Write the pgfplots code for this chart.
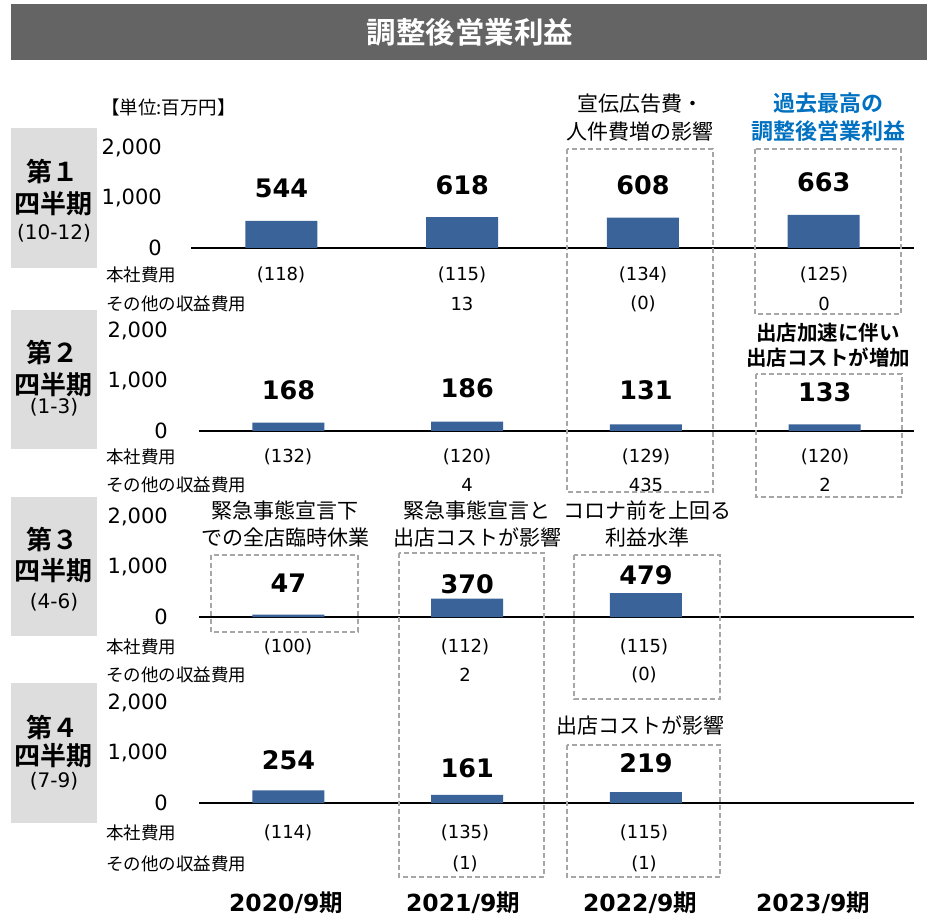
\documentclass[border=0pt]{standalone}
\usepackage{fontspec}
\setmainfont{DejaVu Sans}
\newfontfamily\jp{Noto Sans CJK JP}[BoldFont={Noto Sans CJK JP Bold}]
\usepackage{pgfplots}
\pgfplotsset{compat=1.18}
\definecolor{barblue}{HTML}{3A6399}
\definecolor{titlegray}{HTML}{646464}
\definecolor{boxgray}{HTML}{DDDDDD}
\definecolor{dashgray}{HTML}{A6A6A6}
\definecolor{annblue}{HTML}{0070C0}
\pgfplotsset{
  panel/.style={
    scale only axis, height=100pt,
    xmin=-0.5, xmax=3.5, ymin=0, ymax=2000,
    axis lines*=left, axis line style={-},
    x axis line style={black, line width=1.5pt},
    y axis line style={draw=none},
    xtick=\empty, ytick={0,1000,2000}, major tick length=0pt,
    /pgf/number format/assume math mode=true,
    /pgf/number format/1000 sep={,},
    yticklabel style={font=\fontsize{21}{24}\selectfont, anchor=east, inner sep=0pt},
    clip=false,
  },
  bars/.style={ybar, bar shift=0pt, bar width=72pt, fill=barblue, draw=none},
  lbls/.style={draw=none, mark=none, point meta=explicit symbolic,
    nodes near coords={\pgfplotspointmeta},
    every node near coord/.append style={font=\bfseries\fontsize{25.5}{30}\selectfont, inner sep=0pt, anchor=south}},
}
\newcommand{\rowfont}{\jp\fontsize{17.5}{20}\selectfont}
\newcommand{\valfont}{\fontsize{18}{22}\selectfont}
\newcommand{\annfont}{\jp\fontsize{21}{24}\selectfont}
\begin{document}
\begin{tikzpicture}[x=1pt,y=1pt]
\useasboundingbox (0,0) rectangle (927,-917);
% title
\fill[titlegray] (11,-4) rectangle (927,-60);
\node[text=white, font=\jp\bfseries\fontsize{29.5}{32}\selectfont] at (470,-32) {調整後営業利益};
\node[anchor=west, font=\jp\fontsize{18.5}{20}\selectfont, inner sep=0pt] at (101,-107) {【単位:百万円】};
% quarter boxes
\fill[boxgray] (11,-128) rectangle (97,-268);
\fill[boxgray] (11,-310) rectangle (97,-449);
\fill[boxgray] (11,-497) rectangle (97,-636);
\fill[boxgray] (11,-683) rectangle (97,-823);
\foreach \a/\b/\c/\n/\r in {172/204/233/１/10-12, 353/385/407/２/1-3, 540/571/602/３/4-6, 728/756/781/４/7-9}{
  \node[font=\jp\bfseries\fontsize{26}{28}\selectfont] at (53,-\a) {第\n};
  \node[font=\jp\bfseries\fontsize{26}{28}\selectfont] at (54,-\b) {四半期};
  \node[font=\fontsize{20}{22}\selectfont] at (54,-\c) {(\r)};
}
% Panel 1
\begin{axis}[panel, at={(191pt,-248pt)}, anchor=south west, width=723pt,
  yticklabel style={xshift=-29pt}]
\addplot[bars] coordinates {(0,544) (1,618) (2,608) (3,663)};
\addplot[lbls] coordinates {(0,994)[544] (1,1068)[618] (2,1058)[608] (3,1113)[663]};
\end{axis}
% Panel 2
\begin{axis}[panel, at={(199pt,-431pt)}, anchor=south west, width=715pt,
  yticklabel style={xshift=-31pt}]
\addplot[bars] coordinates {(0,168) (1,186) (2,131) (3,133)};
\addplot[lbls] coordinates {(0,610)[168] (1,650)[186] (2,610)[131] (3,570)[133]};
\end{axis}
% Panel 3
\begin{axis}[panel, at={(199pt,-617pt)}, anchor=south west, width=715pt,
  yticklabel style={xshift=-31pt}]
\addplot[bars] coordinates {(0,47) (1,370) (2,479)};
\addplot[lbls] coordinates {(0,490)[47] (1,450)[370] (2,630)[479]};
\end{axis}
% Panel 4
\begin{axis}[panel, at={(199pt,-803pt)}, anchor=south west, width=715pt,
  yticklabel style={xshift=-31pt}]
\addplot[bars] coordinates {(0,254) (1,161) (2,219)};
\addplot[lbls] coordinates {(0,650)[254] (1,490)[161] (2,590)[219]};
\end{axis}
% row labels
\foreach \y in {275,457,647,833}{\node[anchor=west, font=\rowfont, inner sep=0pt] at (106,-\y) {本社費用};}
\foreach \y in {304,485,675,864}{\node[anchor=west, font=\rowfont, inner sep=0pt] at (106,-\y) {その他の収益費用};}
% row values panel 1
\foreach \x/\v in {281/(118), 462/(115), 643/(134), 824/(125)}{\node[font=\valfont] at (\x,-275) {\v};}
\foreach \x/\v in {462/13, 643/(0), 824/0}{\node[font=\valfont] at (\x,-304) {\v};}
% panel 2
\foreach \x/\v in {288/(132), 467/(120), 646/(129), 825/(120)}{\node[font=\valfont] at (\x,-457) {\v};}
\foreach \x/\v in {467/4, 646/435, 825/2}{\node[font=\valfont] at (\x,-485) {\v};}
% panel 3
\foreach \x/\v in {288/(100), 465/(112), 644/(115)}{\node[font=\valfont] at (\x,-647) {\v};}
\foreach \x/\v in {465/2, 644/(0)}{\node[font=\valfont] at (\x,-675) {\v};}
% panel 4
\foreach \x/\v in {288/(114), 465/(135), 644/(115)}{\node[font=\valfont] at (\x,-833) {\v};}
\foreach \x/\v in {465/(1), 644/(1)}{\node[font=\valfont] at (\x,-864) {\v};}
% year labels
\foreach \x/\yr in {286/2020, 463/2021, 640/2022, 813/2023}{
  \node[font=\bfseries\fontsize{23.5}{26}\selectfont] at (\x,-903) {\yr/9{\jp 期}};}
% dashed boxes
\begin{scope}[draw=dashgray, line width=1.8pt, dash pattern=on 5pt off 3pt]
\draw (567,-149) rectangle (713,-492);
\draw (755,-149) rectangle (901,-314);
\draw (756,-374) rectangle (902,-497);
\draw (211,-555) rectangle (358,-632);
\draw (399,-553) rectangle (544,-877);
\draw (574,-555) rectangle (720,-699);
\draw (567,-745) rectangle (720,-877);
\end{scope}
% annotations
\node[font=\annfont] at (640,-104) {宣伝広告費・};
\node[font=\annfont] at (640,-132) {人件費増の影響};
\node[font=\jp\bfseries\fontsize{22}{24}\selectfont, text=annblue] at (828,-103) {過去最高の};
\node[font=\jp\bfseries\fontsize{22}{24}\selectfont, text=annblue] at (828,-131) {調整後営業利益};
\node[font=\jp\bfseries\fontsize{20.5}{24}\selectfont] at (828,-333) {出店加速に伴い};
\node[font=\jp\bfseries\fontsize{20.5}{24}\selectfont] at (828,-358) {出店コストが増加};
\node[font=\annfont] at (285,-510) {緊急事態宣言下};
\node[font=\annfont] at (285,-538) {での全店臨時休業};
\node[font=\annfont] at (477,-510) {緊急事態宣言と};
\node[font=\annfont] at (477,-537) {出店コストが影響};
\node[font=\annfont] at (647,-510) {コロナ前を上回る};
\node[font=\annfont] at (647,-537) {利益水準};
\node[font=\annfont] at (640,-725) {出店コストが影響};
\end{tikzpicture}
\end{document}
